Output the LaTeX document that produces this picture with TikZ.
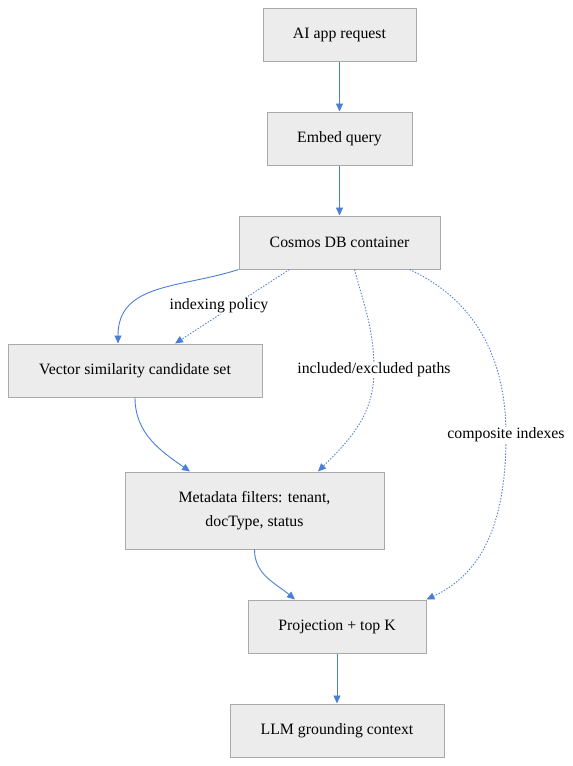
\documentclass[tikz,border=0pt]{standalone}
\usepackage{fontspec}
\setmainfont{Liberation Serif}
\usetikzlibrary{arrows.meta}
\definecolor{boxfill}{HTML}{ECECEC}
\definecolor{boxline}{HTML}{AAAAAA}
\definecolor{edgeblue}{HTML}{4A7FD6}
\begin{document}
\begin{tikzpicture}[x=1pt,y=-1pt,
  box/.style={draw=boxline,fill=boxfill,line width=1pt,inner sep=0pt,align=center,
    font=\fontsize{15.8}{24}\selectfont},
  lbl/.style={fill=white,inner sep=1pt,font=\fontsize{15.8}{18}\selectfont},
  flow/.style={draw=edgeblue,line width=0.9pt,-{Triangle[length=8pt,width=7pt]}},
  dotflow/.style={flow,dash pattern=on 1.4pt off 1.6pt}]
\useasboundingbox (0,0) rectangle (573,766);
\node[box,minimum width=153pt,minimum height=53pt] (ai) at (339.5,34.5) {AI app request};
\node[box,minimum width=145pt,minimum height=53pt] (embed) at (339.5,138.5) {Embed query};
\node[box,minimum width=201pt,minimum height=53pt] (cosmos) at (339.5,242.5) {Cosmos DB container};
\node[box,minimum width=254pt,minimum height=53pt] (vector) at (135,370.5) {Vector similarity candidate set};
\node[box,minimum width=259pt,minimum height=77pt] (meta) at (254.5,510.5) {Metadata filters: tenant,\\docType, status};
\node[box,minimum width=178pt,minimum height=53pt] (proj) at (337,626.5) {Projection + top K};
\node[box,minimum width=214pt,minimum height=53pt] (llm) at (337,730.5) {LLM grounding context};
\coordinate (c2) at (374,370);
\coordinate (c3) at (506,435);
\draw[flow] (ai) -- (embed);
\draw[flow] (embed) -- (cosmos);
\draw[flow] (cosmos.south west) to[out=198,in=90,looseness=1.1] ([xshift=-17pt]vector.north);
\draw[dotflow] ([xshift=-50pt]cosmos.south) -- ([xshift=40pt]vector.north);
\draw[dotflow] ([xshift=15pt]cosmos.south) to[out=-75,in=90] (c2) to[out=-90,in=45] ([xshift=63.5pt]meta.north);
\draw[dotflow] ([xshift=70pt]cosmos.south) to[out=-25,in=90] (c3) to[out=-90,in=25] (proj.north east);
\draw[flow] (vector.south) to[out=-90,in=145] ([xshift=-64.5pt]meta.north);
\draw[flow] (meta.south) to[out=-90,in=140] ([xshift=-42pt]proj.north);
\draw[flow] (proj) -- (llm);
\node[lbl] (l1) at (219,306) {indexing policy};
\node[lbl] (l2) at (c2) {included/excluded paths};
\node[lbl] (l3) at (c3) {composite indexes};
\end{tikzpicture}
\end{document}
